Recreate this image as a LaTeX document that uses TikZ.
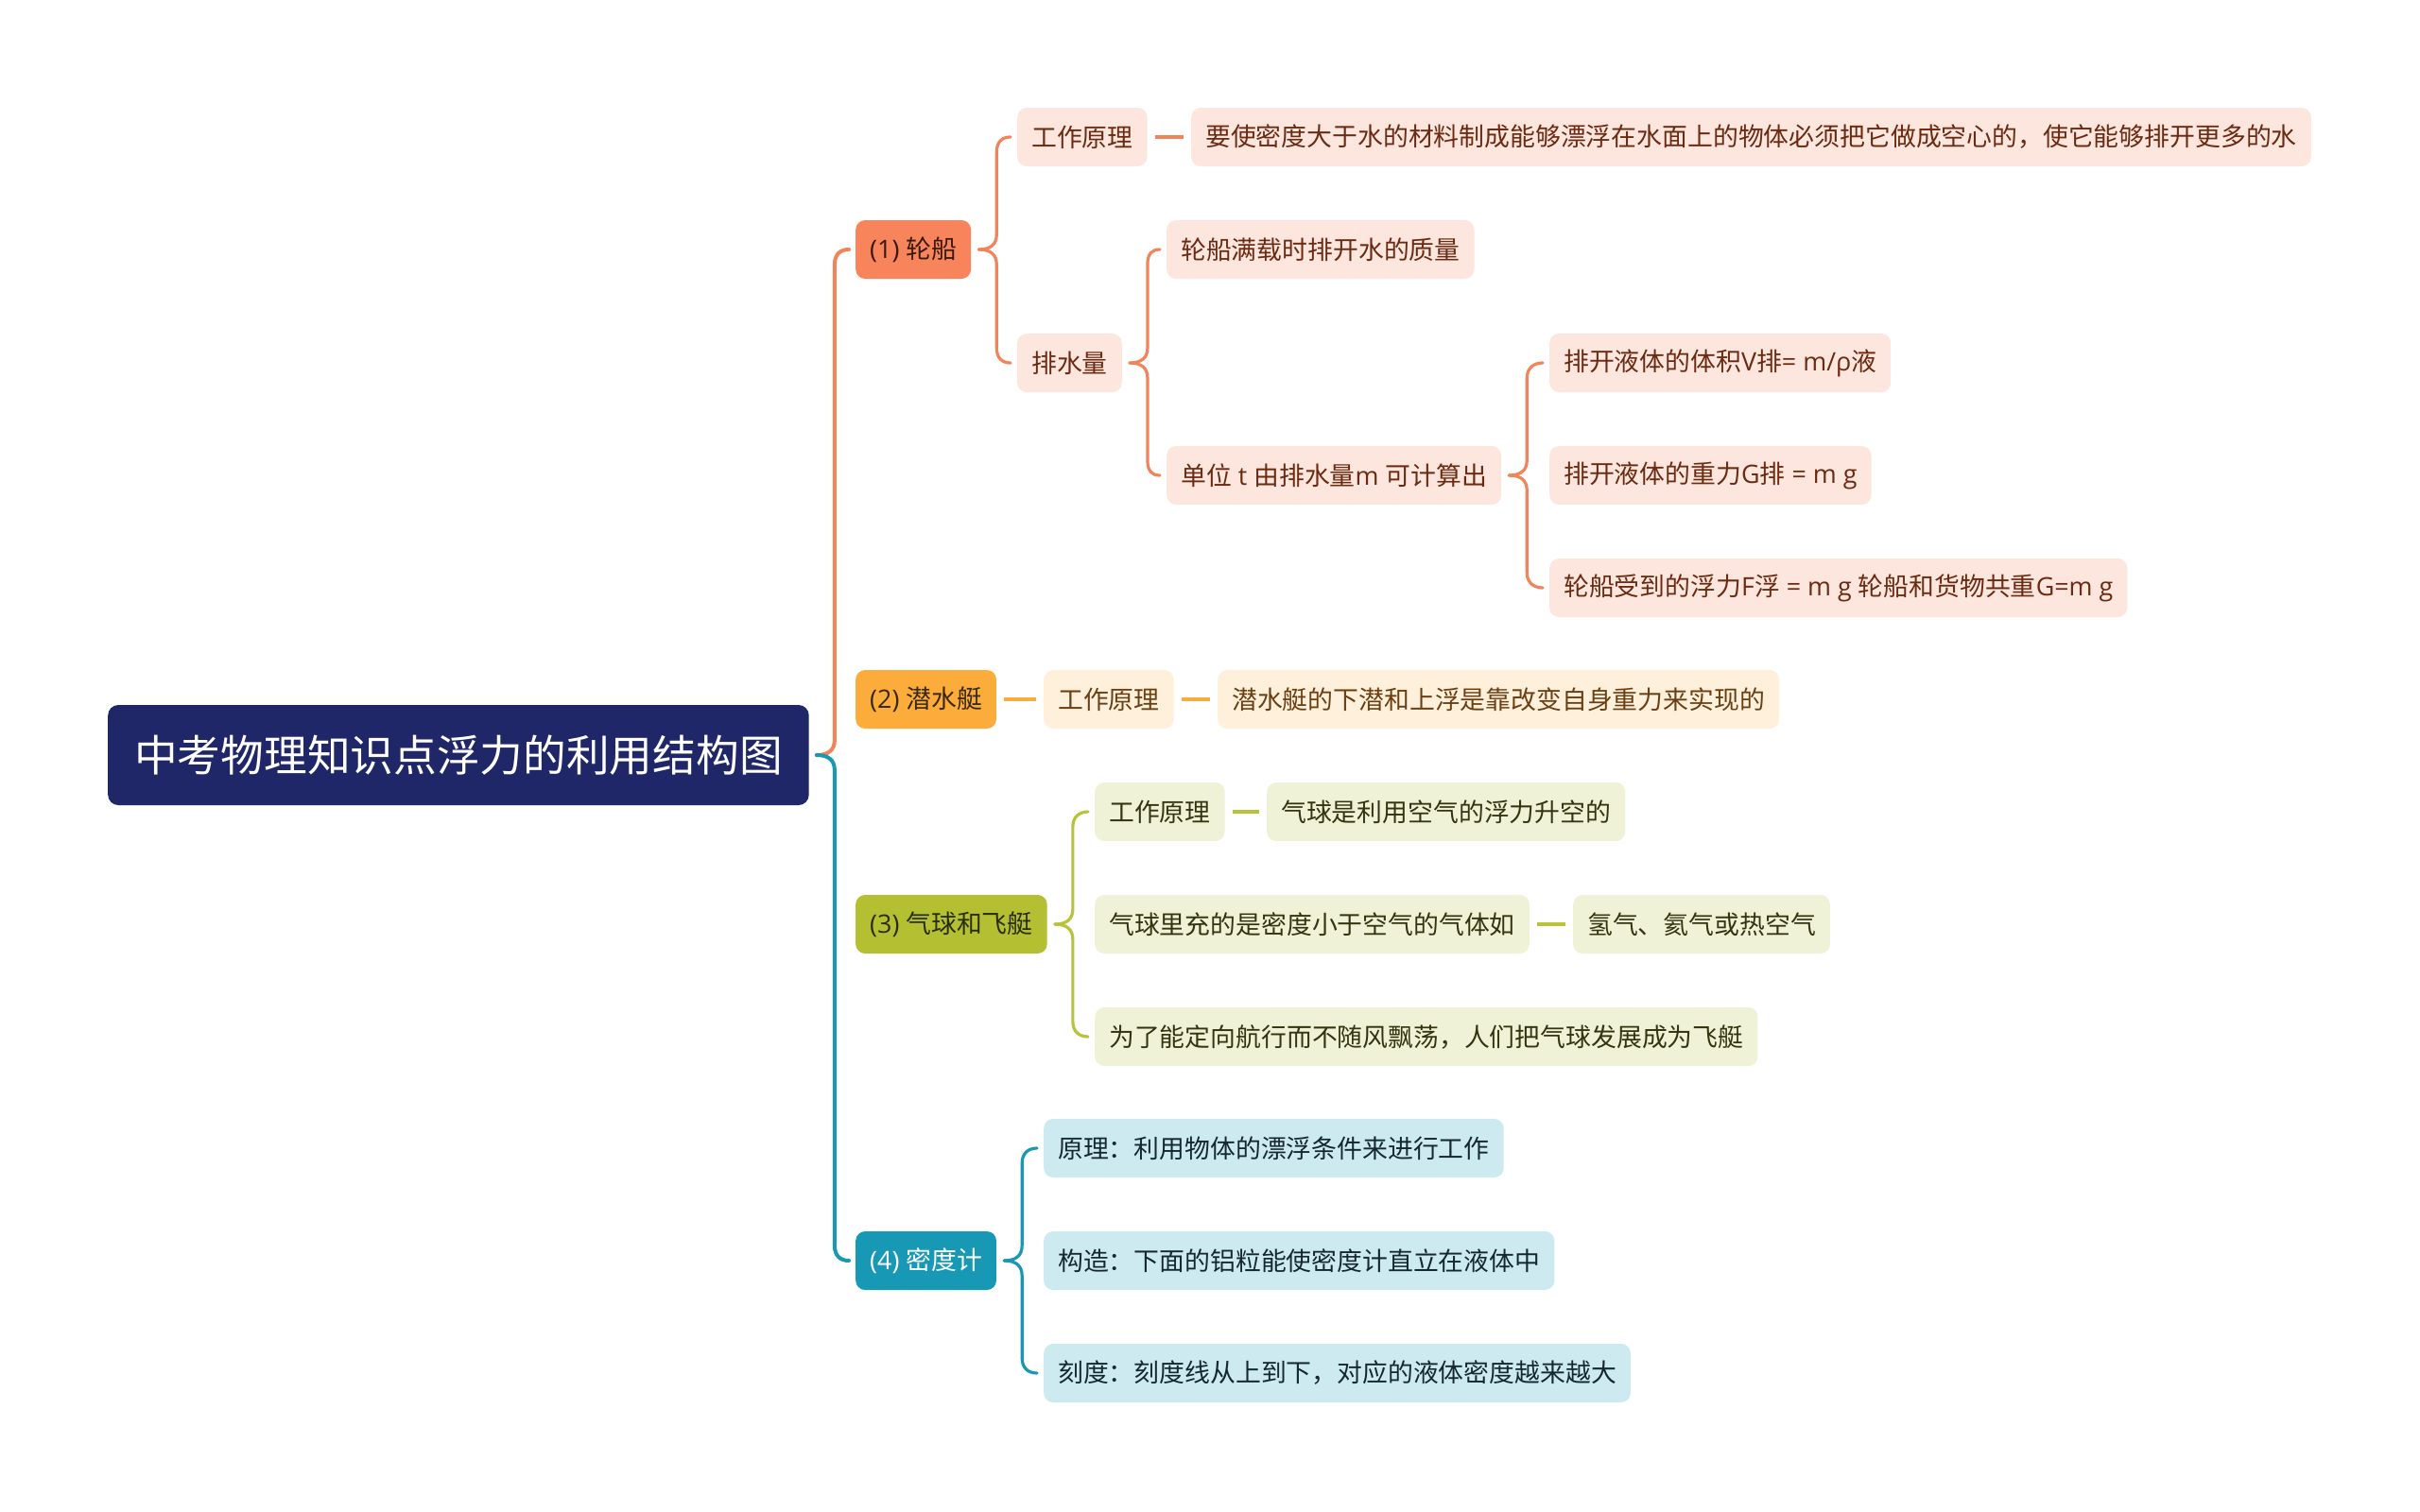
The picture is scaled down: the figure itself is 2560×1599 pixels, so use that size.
\documentclass[tikz,border=0pt]{standalone}
\usepackage{fontspec}
\setmainfont{Noto Sans CJK SC}
\newfontfamily\latf{Open Sans}
\newcommand\lat[1]{{\latf #1}}
\usetikzlibrary{calc}
\definecolor{rootc}{HTML}{202768}
\definecolor{oA}{HTML}{F8845B}\definecolor{oAl}{HTML}{FDE6DD}\definecolor{oAt}{HTML}{6B2A12}\definecolor{oAk}{HTML}{3A1A0E}\definecolor{oAn}{HTML}{F0855C}
\definecolor{yB}{HTML}{FBAC3A}\definecolor{yBl}{HTML}{FEF0DB}\definecolor{yBt}{HTML}{6B3F12}\definecolor{yBk}{HTML}{3A2810}\definecolor{yBn}{HTML}{F8AC3C}
\definecolor{gC}{HTML}{B4C032}\definecolor{gCl}{HTML}{F0F2D8}\definecolor{gCt}{HTML}{333510}\definecolor{gCk}{HTML}{2A2E0C}\definecolor{gCn}{HTML}{B7C33A}
\definecolor{bD}{HTML}{1798B4}\definecolor{bDl}{HTML}{CDEAF1}\definecolor{bDt}{HTML}{14282E}\definecolor{bDn}{HTML}{1A97B3}
\tikzset{
  basebox/.style={rounded corners=10pt, anchor=west, inner xsep=15pt, inner ysep=0pt,
    minimum height=62pt, font=\fontsize{26.85}{30}\selectfont},
  rootbox/.style={rounded corners=11pt, anchor=west, inner xsep=28pt, inner ysep=0pt,
    minimum height=106pt, fill=rootc, text=white, font=\fontsize{45.7}{52}\selectfont},
  oneA/.style={basebox, fill=oA, text=oAk},
  oneB/.style={basebox, fill=yB, text=yBk},
  oneC/.style={basebox, fill=gC, text=gCk},
  oneD/.style={basebox, fill=bD, text=white},
  twoA/.style={basebox, fill=oAl, text=oAt},
  twoB/.style={basebox, fill=yBl, text=yBt},
  twoC/.style={basebox, fill=gCl, text=gCt},
  twoD/.style={basebox, fill=bDl, text=bDt},
  rootline/.style={draw=#1, line width=4pt, line cap=round},
  braceline/.style={draw=#1, line width=3.2pt, line cap=round},
  dashline/.style={draw=#1, line width=4.5pt},
}
\newcommand\mybrace[3]{%
  \draw[#3] let \p1=(#1.east), \p2=(#2.west), \n1={ifthenelse(\y2>\y1,1,-1)} in
  (\x1+8pt,\y1) .. controls (\x1+20pt,\y1) and (\x1+27pt,\y1+\n1*5pt) .. (\x1+27pt,\y1+\n1*16pt)
  -- (\x1+27pt,\y2-\n1*16pt) .. controls (\x1+27pt,\y2-\n1*5pt) and (\x2-16pt,\y2) .. (\x2-7pt,\y2);}
\newcommand\mydash[3]{\draw[#3] ($(#1.east)+(8,0)$) -- ($(#2.west)+(-8,0)$);}
\begin{document}
\begin{tikzpicture}[x=1pt,y=-1pt]
\fill[white] (0,0) rectangle (2560,1599);
\useasboundingbox (0,0) rectangle (2560,1599);

\node[rootbox] (r) at (114,799) {中考物理知识点浮力的利用结构图};

\node[oneA] (a) at (905,264) {\lat{(1) }轮船};
\node[oneB] (b) at (905,740) {\lat{(2) }潜水艇};
\node[oneC] (c) at (905,978) {\lat{(3) }气球和飞艇};
\node[oneD] (d) at (905,1334) {\lat{(4) }密度计};

% branch 1
\node[twoA] (a1) at (1076,145) {工作原理};
\node[twoA] (a1x) at (1260,145) {要使密度大于水的材料制成能够漂浮在水面上的物体必须把它做成空心的，使它能够排开更多的水};
\node[twoA] (a2) at (1076,384) {排水量};
\node[twoA] (a21) at (1234,264) {轮船满载时排开水的质量};
\node[twoA] (a22) at (1234,503) {单位\lat{ t }由排水量\lat{m }可计算出};
\node[twoA] (a221) at (1639,384) {排开液体的体积\lat{V}排\lat{= m/ρ}液};
\node[twoA] (a222) at (1639,503) {排开液体的重力\lat{G}排\lat{ = m g}};
\node[twoA] (a223) at (1639,622) {轮船受到的浮力\lat{F}浮\lat{ = m g }轮船和货物共重\lat{G=m g}};

% branch 2
\node[twoB] (b1) at (1104,740) {工作原理};
\node[twoB] (b1x) at (1288,740) {潜水艇的下潜和上浮是靠改变自身重力来实现的};

% branch 3
\node[twoC] (c1) at (1158,859) {工作原理};
\node[twoC] (c1x) at (1340,859) {气球是利用空气的浮力升空的};
\node[twoC] (c2) at (1158,978) {气球里充的是密度小于空气的气体如};
\node[twoC] (c2x) at (1664,978) {氢气、氦气或热空气};
\node[twoC] (c3) at (1158,1097) {为了能定向航行而不随风飘荡，人们把气球发展成为飞艇};

% branch 4
\node[twoD] (d1) at (1104,1215) {原理：利用物体的漂浮条件来进行工作};
\node[twoD] (d2) at (1104,1334) {构造：下面的铝粒能使密度计直立在液体中};
\node[twoD] (d3) at (1104,1453) {刻度：刻度线从上到下，对应的液体密度越来越大};

% root connectors
\mybrace{r}{a}{rootline=oAn}
\mybrace{r}{d}{rootline=bDn}

% branch 1 connectors
\mybrace{a}{a1}{braceline=oAn}
\mybrace{a}{a2}{braceline=oAn}
\mydash{a1}{a1x}{dashline=oAn}
\mybrace{a2}{a21}{braceline=oAn}
\mybrace{a2}{a22}{braceline=oAn}
\mybrace{a22}{a221}{braceline=oAn}
\mybrace{a22}{a223}{braceline=oAn}

% branch 2 connectors
\mydash{b}{b1}{dashline=yBn}
\mydash{b1}{b1x}{dashline=yBn}

% branch 3 connectors
\mybrace{c}{c1}{braceline=gCn}
\mybrace{c}{c3}{braceline=gCn}
\mydash{c1}{c1x}{dashline=gCn}
\mydash{c2}{c2x}{dashline=gCn}

% branch 4 connectors
\mybrace{d}{d1}{braceline=bDn}
\mybrace{d}{d3}{braceline=bDn}
\end{tikzpicture}
\end{document}
